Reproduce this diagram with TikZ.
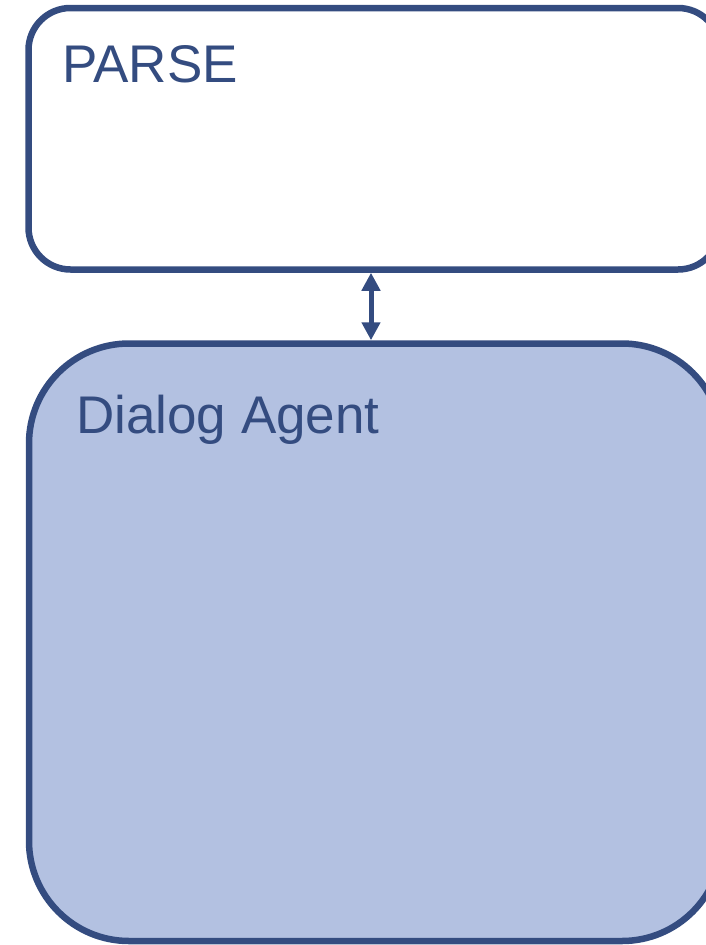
\documentclass[tikz,border=0pt]{standalone}
\usepackage{fontspec}
\setmainfont{Liberation Sans}
\usetikzlibrary{arrows.meta}
\definecolor{edgeblue}{RGB}{52,76,128}
\definecolor{agentfill}{RGB}{179,193,225}
\tikzset{
  box/.style={draw=edgeblue, line width=6.5pt, inner sep=0pt},
  title/.style={anchor=base west, inner sep=0pt, text=edgeblue,
    font=\fontsize{53}{60}\selectfont},
  link/.style={draw=edgeblue, line width=5pt,
    {Triangle[length=18pt,width=18pt]}-{Triangle[length=18pt,width=18pt]}}
}
\begin{document}
\begin{tikzpicture}[x=1pt,y=-1pt]
  \useasboundingbox (0,0) rectangle (705,945);
  % upper box
  \node[box, fill=white, rounded corners=42pt,
        minimum width=691.5pt, minimum height=261.5pt] (parse) at (374.25,138.75) {};
  \node[title] (parsetxt) at (62,82) {PARSE};
  % lower box
  \node[box, fill=agentfill, rounded corners=100pt,
        minimum width=693pt, minimum height=597.5pt] (agent) at (375.5,642.25) {};
  \node[title] (agenttxt) at (76,433) {Dialog Agent};
  % two-way link between the boxes
  \coordinate (lx) at (371,0);
  \draw[link] (parse.south -| lx) -- (agent.north -| lx);
\end{tikzpicture}
\end{document}
